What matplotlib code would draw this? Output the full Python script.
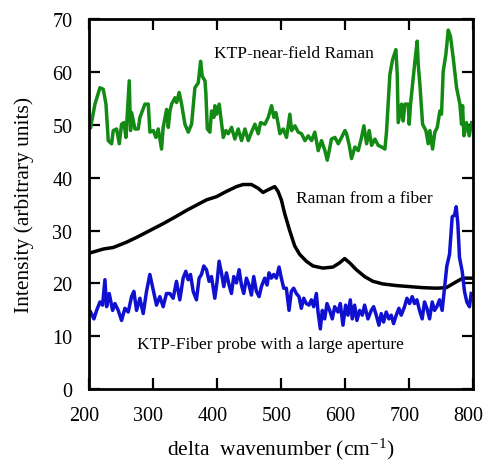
import numpy as np
import matplotlib
matplotlib.use("Agg")
import matplotlib.pyplot as plt
from matplotlib.transforms import ScaledTranslation

plt.rcParams['font.family'] = ['Liberation Serif', 'DejaVu Serif']
plt.rcParams['mathtext.fontset'] = 'custom'
plt.rcParams['mathtext.rm'] = 'Liberation Serif'
plt.rcParams['mathtext.default'] = 'regular'

# KTP near-field Raman (green)
green_x = [202.6, 209.4, 217.2, 222.4, 226.6, 230.2, 235.4, 238, 243.2, 247.4, 251, 254.7, 257.8, 263, 265,
           266.7, 271.9, 277, 279.7, 287.5, 292.7, 295.3, 300.5, 304.7, 308.3, 313.5, 316, 321.4, 324, 326.6,
           329.2, 334.4, 337, 341, 344.8, 350, 355.2, 360.4, 365.6, 370.8, 374.5, 377, 381.3, 382.8, 385,
           389, 391.7, 395.3, 396.9, 399.5, 403.6, 407.3, 409.9, 414, 417.7, 422.9, 428, 433.3, 438.5, 443.8,
           449, 454, 459.4, 464.6, 468.2, 475, 480.2, 485.4, 489, 492.2, 495.8, 498.4, 503.6, 508.8, 514,
           516.7, 521.9, 527, 532.3, 537.5, 542.7, 548, 553, 558.3, 563.5, 568.8, 572.4, 575.5, 579, 584.4,
           589.6, 594.8, 600, 602.6, 606.8, 610.4, 615.6, 620.8, 626, 629.7, 633.9, 638, 641.7, 646.9, 652,
           657.3, 662.5, 665, 670.3, 674.5, 679.7, 681.8, 683.3, 688.5, 691, 693.8, 699, 700.5, 702.6, 705.7,
           709.4, 713, 714.6, 717.2, 721.4, 726.6, 730.2, 732.8, 737, 740.6, 744.3, 748.4, 751, 753.6, 757.8,
           761.5, 765, 769.3, 774.5, 779.7, 782.3, 783.9, 786, 790, 794.3, 798]
green_y = [49.5, 53.9, 57.0, 56.7, 53.9, 47.0, 46.4, 48.9, 49.2, 46.4, 50.1, 50.4, 47.6, 58.3, 48.9,
           52.3, 49.2, 49.2, 51.4, 53.9, 53.9, 48.6, 48.9, 47.6, 49.2, 45.4, 49.5, 52.9, 49.5, 52.6,
           53.9, 55.1, 54.2, 56.1, 53.9, 50.1, 48.6, 50.1, 57.0, 57.9, 62.0, 59.2, 58.3, 55.8, 49.2,
           48.6, 52.6, 51.4, 53.6, 52.0, 53.9, 50.1, 47.6, 48.9, 48.3, 49.5, 47.3, 49.2, 47.0, 49.2,
           47.0, 48.6, 50.1, 48.3, 50.4, 50.1, 51.4, 53.6, 51.4, 52.3, 50.1, 48.3, 49.2, 47.6, 52.0,
           48.9, 49.8, 48.6, 48.3, 47.0, 47.9, 47.0, 48.6, 45.1, 47.0, 45.1, 43.3, 45.1, 47.3, 47.6,
           46.4, 47.6, 48.9, 48.3, 46.1, 43.6, 45.8, 45.1, 47.6, 49.8, 46.4, 48.9, 46.1, 47.3, 46.1,
           45.8, 45.4, 48.6, 59.5, 62.3, 64.2, 59.5, 50.4, 53.9, 50.7, 53.9, 53.9, 50.1, 53.9, 57.6,
           62.0, 65.8, 61.4, 57.6, 50.1, 48.9, 46.4, 48.9, 45.4, 48.6, 49.5, 52.6, 52.0, 60.1, 63.3,
           67.9, 66.7, 62.6, 57.0, 53.9, 50.1, 53.6, 47.9, 50.4, 47.9, 50.4]

# Raman from a fiber (black)
black_x = [202.6, 222.4, 238, 258.8, 274.4, 295.2, 316, 336.8, 352.4, 368, 383.7, 399.3, 414.9, 430.5,
           440.9, 453.9, 464.3, 472.1, 479.9, 490.3, 495.5, 500.7, 505.9, 513.7, 521.5, 529.3, 539.7,
           550.2, 565.8, 581.4, 591.8, 599.6, 607.4, 617.8, 630.8, 643.8, 659.4, 680.2, 701, 721.8,
           742.7, 758.3, 773.9, 784.3, 797.3]
black_y = [25.8, 26.5, 26.8, 27.8, 28.7, 30.0, 31.3, 32.7, 33.8, 34.8, 35.8, 36.4, 37.4, 38.3,
           38.7, 38.7, 38.0, 37.2, 37.7, 38.3, 37.4, 35.8, 33.2, 30.0, 27.1, 25.5, 24.2,
           23.3, 22.9, 23.1, 23.9, 24.7, 23.9, 22.6, 21.3, 20.4, 19.9, 19.6, 19.4, 19.2,
           19.1, 19.2, 20.3, 21.0, 21.0]

# KTP fiber probe with a large aperture (blue)
blue_x = [202.6, 207.8, 212, 217.2, 221.3, 225, 227.6, 231.7, 237, 240.6, 245.8, 251, 256.2, 261.4,
          266.6, 270.2, 274.4, 279.6, 284.8, 290, 295.2, 300.4, 305.6, 310.8, 316, 321.2, 326.4, 331.6,
          336.8, 342, 347.2, 351.4, 355, 358.7, 362.9, 368, 372.2, 375.9, 379.5, 383.7, 387.8, 391.5,
          396.7, 400.3, 403.4, 407.1, 410.7, 414.9, 419, 422.7, 426.3, 430.5, 434.7, 438.3, 441.9, 446.1,
          450.2, 453.9, 457.5, 461.7, 465.9, 469.5, 474.7, 478.4, 481.5, 485.1, 488.8, 492.9, 497.1,
          500.7, 504.4, 508.5, 512.7, 516.3, 519.9, 524.1, 528.3, 531.9, 535.6, 539.7, 543.9, 547.6,
          551.2, 555.4, 558, 561.6, 564.7, 568.4, 572, 576.2, 580.3, 584, 589.2, 592.8, 597, 601.1,
          604.8, 608.4, 611.5, 615.2, 618.8, 623, 627.2, 630.8, 636, 641.2, 644.9, 649, 653.2, 656.8,
          660.5, 664.6, 668.8, 672.4, 676.1, 680.2, 684.4, 688, 693.2, 696.9, 701, 705.2, 708.8, 712.5,
          716.6, 720.8, 724.4, 728.1, 732.3, 736.4, 740.1, 743.7, 747.9, 752, 755.7, 759.3, 763.5,
          767.7, 771.3, 773.9, 776.5, 779.1, 783.3, 786.9, 790.5, 794.7, 797.3]
blue_y = [14.6, 13.3, 14.9, 16.5, 15.9, 20.7, 15.6, 18.1, 14.9, 16.2, 14.9, 13.0, 15.3, 14.6,
          17.5, 18.5, 14.9, 17.2, 14.3, 18.5, 21.7, 18.8, 15.9, 17.5, 15.6, 18.1, 18.1, 17.2,
          20.4, 16.9, 21.0, 22.3, 20.7, 21.7, 18.5, 16.9, 21.0, 21.7, 23.3, 22.6, 20.4, 21.3,
          17.2, 20.4, 24.2, 22.0, 19.4, 22.0, 19.7, 18.1, 21.3, 20.1, 22.6, 19.7, 18.1, 21.0,
          19.7, 17.8, 21.3, 18.5, 17.5, 19.4, 21.0, 19.7, 22.0, 21.0, 21.7, 21.0, 23.1,
          21.0, 19.1, 19.1, 14.9, 18.5, 19.1, 18.1, 17.5, 15.3, 17.2, 16.2, 15.9, 16.9,
          15.6, 18.1, 14.6, 11.4, 14.9, 13.3, 16.2, 14.9, 13.3, 15.6, 14.6, 16.2, 12.1, 15.9,
          14.0, 16.9, 13.3, 15.9, 13.0, 14.9, 14.0, 15.9, 13.3, 14.9, 15.6, 14.0, 12.1, 14.3,
          12.7, 14.6, 13.3, 14.0, 12.4, 14.0, 15.3, 14.0, 15.6, 17.2, 16.2, 17.5, 16.2, 16.9,
          14.9, 13.3, 16.5, 15.3, 13.3, 16.5, 14.9, 15.6, 16.9, 14.9, 19.1, 23.3, 25.5,
          32.6, 32.9, 34.5, 31.3, 24.9, 22.3, 18.5, 16.5, 15.6, 18.1]

fig = plt.figure(figsize=(4.86, 4.64), dpi=100)
ax = fig.add_axes([0.183, 0.159, 0.790, 0.798])

ax.plot(green_x, green_y, color="#138a13", linewidth=2.5)
ax.plot(black_x, black_y, color="black", linewidth=2.5)
ax.plot(blue_x, blue_y, color="#1010d0", linewidth=2.5)

ax.text(520, 63.6, "KTP-near-field Raman", ha='center', va='center', fontsize=12.5)
ax.text(631, 36.1, "Raman from a fiber", ha='center', va='center', fontsize=12.5)
ax.text(484, 8.5, "KTP-Fiber probe with a large aperture", ha='center', va='center', fontsize=12.5)

ax.set_xlim(200, 800)
ax.set_ylim(0, 70)
ax.set_xticks(np.arange(200, 801, 100))
ax.set_yticks(np.arange(0, 71, 10))
ax.tick_params(direction='in', length=8, width=1.6, top=True, right=True, labelsize=14.5, pad=12)
for s in ax.spines.values():
    s.set_linewidth(2)

# x tick labels sit a little left of their ticks in the original
shift = ScaledTranslation(-0.045, 0, fig.dpi_scale_trans)
for lbl in ax.get_xticklabels():
    lbl.set_transform(lbl.get_transform() + shift)

ax.set_xlabel("delta  wavenumber (cm$^{-1}$)", fontsize=15.5, labelpad=8)
ax.set_ylabel("Intensity (arbitrary units)", fontsize=15.5, labelpad=13)

fig.savefig("out.png", dpi=100)
